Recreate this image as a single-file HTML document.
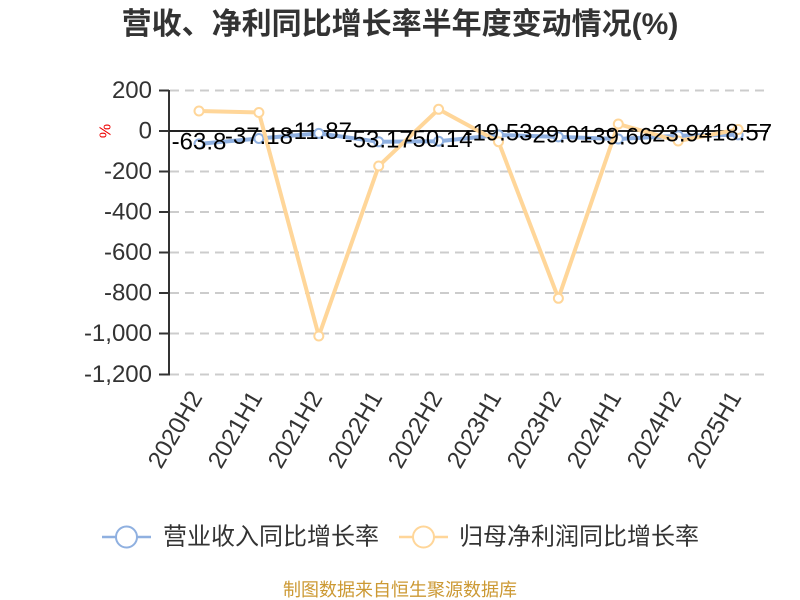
<!DOCTYPE html>
<html><head><meta charset="utf-8"><style>
html,body{margin:0;padding:0;background:#fff;}
svg{display:block;}
text{font-family:"Liberation Sans","Noto Sans CJK SC",sans-serif;}
</style></head><body>
<svg width="800" height="600" viewBox="0 0 800 600" xmlns="http://www.w3.org/2000/svg">
<rect width="800" height="600" fill="#fff"/>
<text x="400" y="34" text-anchor="middle" font-size="30" font-weight="bold" fill="#333">营收、净利同比增长率半年度变动情况(%)</text>
<!-- grid -->
<g stroke="#cccccc" stroke-width="2" stroke-dasharray="9,6">
<line x1="170" y1="90.5" x2="768" y2="90.5"/>
<line x1="170" y1="171.5" x2="768" y2="171.5"/>
<line x1="170" y1="212" x2="768" y2="212"/>
<line x1="170" y1="252.5" x2="768" y2="252.5"/>
<line x1="170" y1="293" x2="768" y2="293"/>
<line x1="170" y1="333.5" x2="768" y2="333.5"/>
<line x1="170" y1="374.5" x2="768" y2="374.5"/>
</g>
<!-- axes -->
<line x1="169" y1="90" x2="169" y2="375.5" stroke="#333" stroke-width="2"/>
<line x1="168" y1="131" x2="768" y2="131" stroke="#222" stroke-width="2"/>
<g stroke="#333" stroke-width="2">
<line x1="159" y1="90.5" x2="169" y2="90.5"/>
<line x1="159" y1="131" x2="169" y2="131"/>
<line x1="159" y1="171.5" x2="169" y2="171.5"/>
<line x1="159" y1="212" x2="169" y2="212"/>
<line x1="159" y1="252.5" x2="169" y2="252.5"/>
<line x1="159" y1="293" x2="169" y2="293"/>
<line x1="159" y1="333.5" x2="169" y2="333.5"/>
<line x1="159" y1="374.5" x2="169" y2="374.5"/>
</g>
<g font-size="24" fill="#333" text-anchor="end" dominant-baseline="central">
<text x="152" y="90.5">200</text>
<text x="152" y="131">0</text>
<text x="152" y="171.5">-200</text>
<text x="152" y="212">-400</text>
<text x="152" y="252.5">-600</text>
<text x="152" y="293">-800</text>
<text x="152" y="333.5">-1,000</text>
<text x="152" y="374.5">-1,200</text>
</g>
<text transform="translate(106,131) rotate(-90)" font-size="16" fill="#e00" text-anchor="middle" dominant-baseline="central">%</text>
<!-- x labels -->
<g font-size="24" fill="#333" text-anchor="end">
<text transform="translate(203,397) rotate(-60)">2020H2</text>
<text transform="translate(263,397) rotate(-60)">2021H1</text>
<text transform="translate(323,397) rotate(-60)">2021H2</text>
<text transform="translate(383,397) rotate(-60)">2022H1</text>
<text transform="translate(443,397) rotate(-60)">2022H2</text>
<text transform="translate(502,397) rotate(-60)">2023H1</text>
<text transform="translate(562,397) rotate(-60)">2023H2</text>
<text transform="translate(622,397) rotate(-60)">2024H1</text>
<text transform="translate(682,397) rotate(-60)">2024H2</text>
<text transform="translate(742,397) rotate(-60)">2025H1</text>
</g>
<!-- blue series -->
<polyline fill="none" stroke="#8fb0e0" stroke-width="4" stroke-linejoin="round" points="199,143.9 258.9,138.5 318.8,133.4 378.7,141.8 438.6,141.2 498.5,135 558.4,136.9 618.3,139 678.2,135.8 738.1,134.8"/>
<g fill="#fff" stroke="#8fb0e0" stroke-width="2">
<circle cx="199" cy="143.9" r="4.5"/><circle cx="258.9" cy="138.5" r="4.5"/><circle cx="318.8" cy="133.4" r="4.5"/><circle cx="378.7" cy="141.8" r="4.5"/><circle cx="438.6" cy="141.2" r="4.5"/><circle cx="498.5" cy="135" r="4.5"/><circle cx="558.4" cy="136.9" r="4.5"/><circle cx="618.3" cy="139" r="4.5"/><circle cx="678.2" cy="135.8" r="4.5"/><circle cx="738.1" cy="134.8" r="4.5"/>
</g>
<!-- orange series -->
<polyline fill="none" stroke="#ffd699" stroke-width="4" stroke-linejoin="round" points="199,111 258.9,112.5 318.8,336 378.7,166 438.6,109.3 498.5,141.7 558.4,298.3 618.3,124 678.2,141 738.1,129.5"/>
<g fill="#fff" stroke="#ffd699" stroke-width="2">
<circle cx="199" cy="111" r="4.5"/><circle cx="258.9" cy="112.5" r="4.5"/><circle cx="318.8" cy="336" r="4.5"/><circle cx="378.7" cy="166" r="4.5"/><circle cx="438.6" cy="109.3" r="4.5"/><circle cx="498.5" cy="141.7" r="4.5"/><circle cx="558.4" cy="298.3" r="4.5"/><circle cx="618.3" cy="124" r="4.5"/><circle cx="678.2" cy="141" r="4.5"/><circle cx="738.1" cy="129.5" r="4.5"/>
</g>
<!-- data labels -->
<g font-size="24" fill="#000" text-anchor="middle" dominant-baseline="central">
<text x="199" y="142">-63.8</text>
<text x="258.9" y="136.5">-37.18</text>
<text x="318.8" y="131.5">-11.87</text>
<text x="378.7" y="140">-53.17</text>
<text x="438.6" y="139.5">-50.14</text>
<text x="498.5" y="133">-19.53</text>
<text x="558.4" y="135">-29.01</text>
<text x="618.3" y="137">-39.66</text>
<text x="678.2" y="134">-23.94</text>
<text x="738.1" y="133">-18.57</text>
</g>
<!-- legend -->
<line x1="102" y1="537" x2="151" y2="537" stroke="#8fb0e0" stroke-width="2.5"/>
<circle cx="126.5" cy="537" r="10.5" fill="#fff" stroke="#8fb0e0" stroke-width="2"/>
<text x="163" y="537" font-size="24" fill="#333" dominant-baseline="central">营业收入同比增长率</text>
<line x1="399" y1="537" x2="448" y2="537" stroke="#ffd699" stroke-width="2.5"/>
<circle cx="423.5" cy="537" r="10.5" fill="#fff" stroke="#ffd699" stroke-width="2"/>
<text x="459" y="537" font-size="24" fill="#333" dominant-baseline="central">归母净利润同比增长率</text>
<text x="400" y="590" font-size="18" fill="#cc9933" text-anchor="middle" dominant-baseline="central">制图数据来自恒生聚源数据库</text>
</svg>
</body></html>
